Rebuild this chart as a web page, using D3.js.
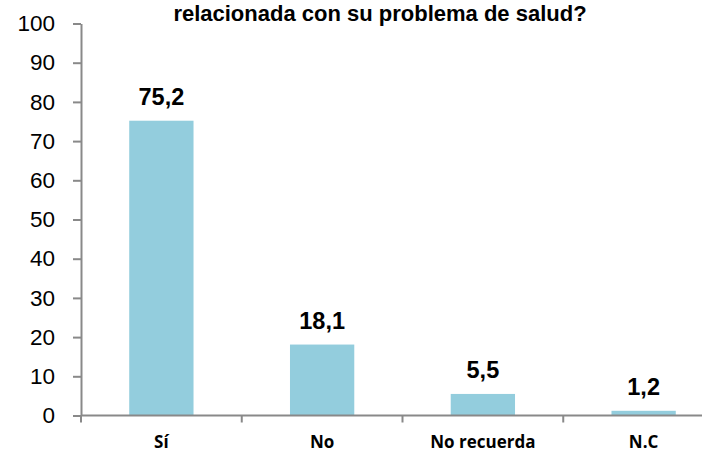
<!DOCTYPE html>
<html><head><meta charset="utf-8">
<script src="https://cdn.jsdelivr.net/npm/d3@7"></script>
<style>body{margin:0;background:#fff;}svg{display:block;}</style>
</head><body>
<svg id="c" width="702" height="452"></svg>
<script>
const categories = ["Sí", "No", "No recuerda", "N.C"];
const values = [75.2, 18.1, 5.5, 1.2];
const valueLabels = ["75,2", "18,1", "5,5", "1,2"];
const yTicks = [0, 10, 20, 30, 40, 50, 60, 70, 80, 90, 100];
const titleText = "relacionada con su problema de salud?";

const svg = d3.select("#c");
const axisColor = "#898989";
const barColor = "#93CDDD";

const x = d3.scaleBand().domain(categories).range([81, 724]).paddingInner(0.6).paddingOuter(0.3);
const y = d3.scaleLinear().domain([0, 100]).range([415.5, 23.5]);

// title
svg.append("text").attr("x", 380).attr("y", 21).attr("text-anchor", "middle")
  .style("font-family", "Liberation Sans, Arial, sans-serif").style("font-weight", "bold")
  .style("font-size", "22px").attr("fill", "#000").text(titleText);

// bars
svg.selectAll("rect.bar").data(values).enter().append("rect").attr("class", "bar")
  .attr("x", (d, i) => x(categories[i])).attr("width", x.bandwidth())
  .attr("y", d => y(d)).attr("height", d => y(0) - y(d)).attr("fill", barColor);

// value labels
svg.selectAll("text.val").data(values).enter().append("text").attr("class", "val")
  .attr("x", (d, i) => x(categories[i]) + x.bandwidth() / 2).attr("y", d => y(d) - 16)
  .attr("text-anchor", "middle")
  .style("font-family", "Liberation Sans, Arial, sans-serif").style("font-weight", "bold")
  .style("font-size", "23.5px").attr("fill", "#000").text((d, i) => valueLabels[i]);

// y axis
const yAxis = d3.axisLeft(y).tickValues(yTicks).tickSize(8).tickSizeOuter(0).tickPadding(18).tickFormat(d3.format("d"));
const gy = svg.append("g").attr("transform", "translate(81,0)").call(yAxis);
gy.select(".domain").attr("stroke", axisColor).attr("stroke-width", 2);
gy.selectAll(".tick line").attr("stroke", axisColor).attr("stroke-width", 2);
gy.selectAll(".tick text").style("font-family", "Liberation Sans, Arial, sans-serif")
  .style("font-size", "22.5px").attr("fill", "#000");

// x axis line
const x0 = x.range()[0], step = x.step();
svg.append("line").attr("x1", x0).attr("x2", x.range()[1]).attr("y1", y(0)).attr("y2", y(0))
  .attr("stroke", axisColor).attr("stroke-width", 2);
// boundary ticks
svg.selectAll("line.xt").data(d3.range(categories.length + 1)).enter().append("line").attr("class", "xt")
  .attr("x1", i => x0 + i * step).attr("x2", i => x0 + i * step)
  .attr("y1", y(0)).attr("y2", y(0) + 7).attr("stroke", axisColor).attr("stroke-width", 2);

// category labels
svg.selectAll("text.cat").data(categories).enter().append("text").attr("class", "cat")
  .attr("x", d => x(d) + x.bandwidth() / 2).attr("y", 448).attr("text-anchor", "middle")
  .style("font-family", "Open Sans, sans-serif").style("font-weight", "bold")
  .style("font-size", "17px").attr("fill", "#000").text(d => d);
</script>
</body></html>
